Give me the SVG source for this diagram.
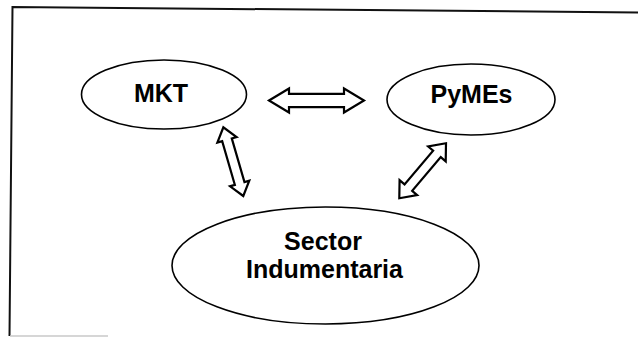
<svg xmlns="http://www.w3.org/2000/svg" width="638" height="337" viewBox="0 0 638 337">
  <style>
    .node { fill: #ffffff; stroke: #000000; stroke-width: 1.6; }
    .label { font-family: "Liberation Sans", Arial, sans-serif; font-weight: bold; font-size: 25px; fill: #000000; text-anchor: middle; }
    .arrow { fill: #ffffff; stroke: #000000; stroke-width: 2.2; stroke-linejoin: miter; }
    .frame { fill: none; stroke: #111111; stroke-width: 2; }
  </style>
  <rect x="0" y="0" width="638" height="337" fill="#ffffff"/>
  <g id="frame">
    <polyline class="frame" points="638,12.5 12.5,7 9.5,336"/>
    <line x1="10" y1="336" x2="108" y2="336" stroke="#c8c8c8" stroke-width="1.5"/>
  </g>
  <g id="connectors">
    <polygon class="arrow" transform="translate(269,100.5)" points="0,0 20,-12 20,-6.7 75,-6.7 75,-12 95,0 75,12 75,6.7 20,6.7 20,12"/>
    <polygon class="arrow" transform="translate(243.3,196) rotate(-106.2)" points="0,0 13,-10 13,-5 58.5,-5 58.5,-10 71.5,0 58.5,10 58.5,5 13,5 13,10"/>
    <polygon class="arrow" transform="translate(399.3,198.3) rotate(-49.7)" points="0,0 14,-11.5 14,-5 58.2,-5 58.2,-11.5 72.2,0 58.2,11.5 58.2,5 14,5 14,11.5"/>
  </g>
  <g id="node-mkt">
    <ellipse class="node" cx="164" cy="94.5" rx="82.5" ry="34.5"/>
    <text class="label" x="161" y="101.5">MKT</text>
  </g>
  <g id="node-pymes">
    <ellipse class="node" cx="471" cy="99.5" rx="84" ry="35.5"/>
    <text class="label" x="471.5" y="103">PyMEs</text>
  </g>
  <g id="node-sector">
    <ellipse class="node" cx="325.5" cy="265.5" rx="153.5" ry="58.5"/>
    <text class="label" x="323" y="250">Sector</text>
    <text class="label" x="324.5" y="278">Indumentaria</text>
  </g>
</svg>
